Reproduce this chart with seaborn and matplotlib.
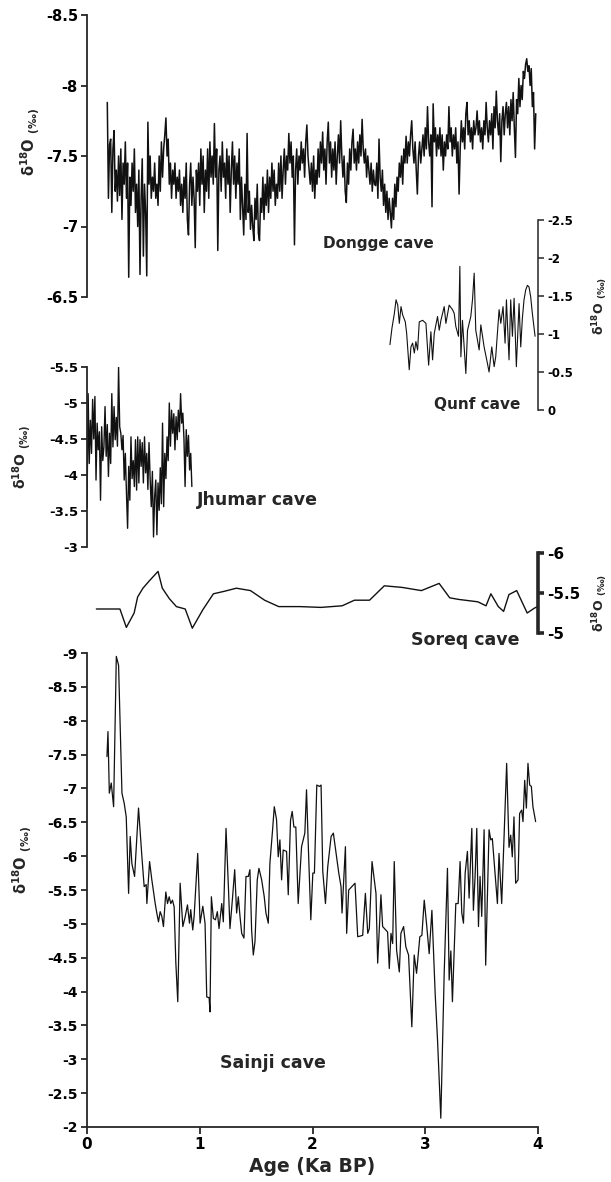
import matplotlib
matplotlib.use("Agg")
import numpy as np
import pandas as pd
import seaborn as sns
import matplotlib.pyplot as plt

# ---------------- data ----------------
dongge_age = [
    0.18, 0.19, 0.20, 0.21, 0.22, 0.23, 0.24, 0.25, 0.26, 0.27, 0.28, 0.29, 0.30, 0.31, 0.32, 0.33, 0.34, 0.35, 0.36, 0.37,
    0.38, 0.39, 0.40, 0.41, 0.42, 0.43, 0.44, 0.45, 0.46, 0.47, 0.48, 0.49, 0.50, 0.51, 0.52, 0.53, 0.54, 0.55, 0.56, 0.57,
    0.58, 0.59, 0.60, 0.61, 0.62, 0.63, 0.64, 0.65, 0.66, 0.67, 0.68, 0.69, 0.70, 0.71, 0.72, 0.73, 0.74, 0.75, 0.76, 0.77,
    0.78, 0.79, 0.80, 0.81, 0.82, 0.83, 0.84, 0.85, 0.86, 0.87, 0.88, 0.89, 0.90, 0.91, 0.92, 0.93, 0.94, 0.95, 0.96, 0.97,
    0.98, 0.99, 1.00, 1.01, 1.02, 1.03, 1.04, 1.05, 1.06, 1.07, 1.08, 1.09, 1.10, 1.11, 1.12, 1.13, 1.14, 1.15, 1.16, 1.17,
    1.18, 1.19, 1.20, 1.21, 1.22, 1.23, 1.24, 1.25, 1.26, 1.27, 1.28, 1.29, 1.30, 1.31, 1.32, 1.33, 1.34, 1.35, 1.36, 1.37,
    1.38, 1.39, 1.40, 1.41, 1.42, 1.43, 1.44, 1.45, 1.46, 1.47, 1.48, 1.49, 1.50, 1.51, 1.52, 1.53, 1.54, 1.55, 1.56, 1.57,
    1.58, 1.59, 1.60, 1.61, 1.62, 1.63, 1.64, 1.65, 1.66, 1.67, 1.68, 1.69, 1.70, 1.71, 1.72, 1.73, 1.74, 1.75, 1.76, 1.77,
    1.78, 1.79, 1.80, 1.81, 1.82, 1.83, 1.84, 1.85, 1.86, 1.87, 1.88, 1.89, 1.90, 1.91, 1.92, 1.93, 1.94, 1.95, 1.96, 1.97,
    1.98, 1.99, 2.00, 2.01, 2.02, 2.03, 2.04, 2.05, 2.06, 2.07, 2.08, 2.09, 2.10, 2.11, 2.12, 2.13, 2.14, 2.15, 2.16, 2.17,
    2.18, 2.19, 2.20, 2.21, 2.22, 2.23, 2.24, 2.25, 2.26, 2.27, 2.28, 2.29, 2.30, 2.31, 2.32, 2.33, 2.34, 2.35, 2.36, 2.37,
    2.38, 2.39, 2.40, 2.41, 2.42, 2.43, 2.44, 2.45, 2.46, 2.47, 2.48, 2.49, 2.50, 2.51, 2.52, 2.53, 2.54, 2.55, 2.56, 2.57,
    2.58, 2.59, 2.60, 2.61, 2.62, 2.63, 2.64, 2.65, 2.66, 2.67, 2.68, 2.69, 2.70, 2.71, 2.72, 2.73, 2.74, 2.75, 2.76, 2.77,
    2.78, 2.79, 2.80, 2.81, 2.82, 2.83, 2.84, 2.85, 2.86, 2.87, 2.88, 2.89, 2.90, 2.91, 2.92, 2.93, 2.94, 2.95, 2.96, 2.97,
    2.98, 2.99, 3.00, 3.01, 3.02, 3.03, 3.04, 3.05, 3.06, 3.07, 3.08, 3.09, 3.10, 3.11, 3.12, 3.13, 3.14, 3.15, 3.16, 3.17,
    3.18, 3.19, 3.20, 3.21, 3.22, 3.23, 3.24, 3.25, 3.26, 3.27, 3.28, 3.29, 3.30, 3.31, 3.32, 3.33, 3.34, 3.35, 3.36, 3.37,
    3.38, 3.39, 3.40, 3.41, 3.42, 3.43, 3.44, 3.45, 3.46, 3.47, 3.48, 3.49, 3.50, 3.51, 3.52, 3.53, 3.54, 3.55, 3.56, 3.57,
    3.58, 3.59, 3.60, 3.61, 3.62, 3.63, 3.64, 3.65, 3.66, 3.67, 3.68, 3.69, 3.70, 3.71, 3.72, 3.73, 3.74, 3.75, 3.76, 3.77,
    3.78, 3.79, 3.80, 3.81, 3.82, 3.83, 3.84, 3.85, 3.86, 3.87, 3.88, 3.89, 3.90, 3.91, 3.92, 3.93, 3.94, 3.95, 3.96, 3.97, 3.98,
]
dongge_d18o = [
    -7.88, -7.20, -7.58, -7.62, -7.10, -7.55, -7.68, -7.25, -7.40, -7.18, -7.50, -7.22, -7.55, -7.05, -7.45, -7.30, -7.60, -7.20, -7.45, -6.64,
    -7.35, -7.15, -7.45, -7.25, -7.55, -7.10, -7.30, -7.00, -7.40, -6.66, -7.20, -7.48, -6.79, -7.30, -7.10, -6.65, -7.74, -7.30, -7.50, -7.20,
    -7.35, -7.25, -7.45, -7.20, -7.30, -7.15, -7.50, -7.25, -7.60, -7.35, -7.55, -7.65, -7.77, -7.50, -7.62, -7.30, -7.45, -7.20, -7.40, -7.30,
    -7.45, -7.20, -7.35, -7.25, -7.40, -7.15, -7.30, -7.10, -7.35, -7.20, -7.45, -7.05, -6.94, -7.30, -7.45, -7.15, -7.35, -7.20, -6.85, -7.40,
    -7.25, -7.45, -7.15, -7.55, -7.30, -7.50, -7.10, -7.40, -7.25, -7.55, -7.20, -7.60, -7.35, -7.50, -7.30, -7.73, -7.35, -7.55, -6.83, -7.40,
    -7.50, -7.25, -7.60, -7.35, -7.45, -7.20, -7.55, -7.30, -7.50, -7.10, -7.40, -7.60, -7.30, -7.50, -7.20, -7.45, -7.30, -7.55, -7.05, -7.35,
    -7.15, -6.94, -7.30, -7.05, -7.66, -7.10, -7.25, -6.98, -7.15, -7.00, -6.90, -7.20, -7.05, -7.30, -6.95, -6.90, -7.20, -7.10, -7.35, -7.05,
    -7.30, -7.15, -7.40, -7.10, -7.35, -7.20, -7.45, -7.25, -7.40, -7.15, -7.30, -7.20, -7.45, -7.25, -7.50, -7.20, -7.40, -7.55, -7.30, -7.50,
    -7.40, -7.66, -7.45, -7.60, -7.35, -7.50, -6.87, -7.40, -7.55, -7.30, -7.50, -7.40, -7.60, -7.45, -7.55, -7.35, -7.60, -7.72, -7.50, -7.40,
    -7.30, -7.45, -7.25, -7.50, -7.20, -7.40, -7.30, -7.55, -7.35, -7.60, -7.45, -7.67, -7.40, -7.55, -7.30, -7.60, -7.74, -7.45, -7.60, -7.35,
    -7.55, -7.40, -7.60, -7.30, -7.50, -7.65, -7.45, -7.75, -7.50, -7.35, -7.50, -7.25, -7.17, -7.45, -7.30, -7.55, -7.40, -7.60, -7.69, -7.45,
    -7.55, -7.40, -7.60, -7.45, -7.65, -7.50, -7.76, -7.55, -7.45, -7.55, -7.35, -7.50, -7.40, -7.30, -7.45, -7.25, -7.40, -7.30, -7.29, -7.45,
    -7.20, -7.62, -7.35, -7.25, -7.40, -7.15, -7.30, -7.10, -7.25, -7.05, -7.20, -7.10, -6.99, -7.20, -7.05, -7.30, -7.14, -7.35, -7.25, -7.45,
    -7.35, -7.50, -7.30, -7.55, -7.45, -7.64, -7.45, -7.60, -7.50, -7.65, -7.75, -7.55, -7.45, -7.60, -7.40, -7.23, -7.50, -7.60, -7.45, -7.55,
    -7.65, -7.50, -7.70, -7.55, -7.85, -7.60, -7.50, -7.65, -7.14, -7.87, -7.60, -7.70, -7.50, -7.65, -7.55, -7.70, -7.50, -7.65, -7.40, -7.60,
    -7.50, -7.65, -7.55, -7.85, -7.60, -7.70, -7.50, -7.65, -7.55, -7.70, -7.45, -7.60, -7.23, -7.55, -7.75, -7.60, -7.70, -7.55, -7.80, -7.88,
    -7.65, -7.75, -7.60, -7.70, -7.55, -7.75, -7.65, -7.70, -7.82, -7.65, -7.75, -7.60, -7.70, -7.55, -7.75, -7.65, -7.88, -7.70, -7.60, -7.75,
    -7.65, -7.80, -7.55, -7.85, -7.70, -7.96, -7.75, -7.65, -7.80, -7.46, -7.75, -7.85, -7.65, -7.80, -7.88, -7.70, -7.85, -7.65, -7.90, -7.75,
    -7.95, -7.70, -7.49, -7.90, -7.80, -8.05, -7.85, -8.00, -7.90, -8.10, -8.05, -8.15, -8.19, -8.10, -8.14, -8.00, -8.12, -7.85, -7.95, -7.55, -7.80,
]

qunf_age = [
    2.687, 2.705, 2.726, 2.741, 2.756, 2.770, 2.785, 2.800, 2.823, 2.835,
    2.858, 2.873, 2.888, 2.903, 2.917, 2.932, 2.947, 2.977, 3.006, 3.030,
    3.050, 3.065, 3.080, 3.109, 3.124, 3.139, 3.168, 3.183, 3.212, 3.242,
    3.257, 3.271, 3.295, 3.307, 3.316, 3.330, 3.360, 3.375, 3.404, 3.419,
    3.434, 3.448, 3.478, 3.493, 3.522, 3.552, 3.566, 3.590, 3.611, 3.625,
    3.655, 3.670, 3.690, 3.708, 3.720, 3.743, 3.758, 3.773, 3.788, 3.808,
    3.832, 3.847, 3.861, 3.876, 3.891, 3.906, 3.920, 3.935, 3.950, 3.974,
]
qunf_d18o = [
    -0.86, -1.08, -1.27, -1.45, -1.38, -1.14, -1.36, -1.25, -1.16, -1.01,
    -0.53, -0.83, -0.88, -0.75, -0.90, -0.79, -1.16, -1.18, -1.14, -0.59,
    -1.03, -0.66, -1.01, -1.23, -1.05, -1.18, -1.36, -1.14, -1.38, -1.32,
    -1.27, -1.10, -0.97, -1.89, -0.70, -1.18, -0.48, -1.05, -1.23, -1.45,
    -1.80, -1.05, -0.79, -1.12, -0.83, -0.61, -0.50, -0.83, -0.57, -0.70,
    -1.32, -1.14, -1.36, -0.88, -1.45, -0.66, -1.45, -0.97, -1.47, -0.57,
    -1.40, -0.83, -1.20, -1.45, -1.58, -1.64, -1.62, -1.49, -1.27, -0.97,
]

jhumar_age = [
    0.00, 0.01, 0.02, 0.03, 0.04, 0.05, 0.06, 0.07, 0.08, 0.09,
    0.10, 0.11, 0.12, 0.13, 0.14, 0.15, 0.16, 0.17, 0.18, 0.19,
    0.20, 0.21, 0.22, 0.23, 0.24, 0.25, 0.26, 0.27, 0.28, 0.29,
    0.30, 0.31, 0.32, 0.33, 0.34, 0.35, 0.36, 0.37, 0.38, 0.39,
    0.40, 0.41, 0.42, 0.43, 0.44, 0.45, 0.46, 0.47, 0.48, 0.49,
    0.50, 0.51, 0.52, 0.53, 0.54, 0.55, 0.56, 0.57, 0.58, 0.59,
    0.60, 0.61, 0.62, 0.63, 0.64, 0.65, 0.66, 0.67, 0.68, 0.69,
    0.70, 0.71, 0.72, 0.73, 0.74, 0.75, 0.76, 0.77, 0.78, 0.79,
    0.80, 0.81, 0.82, 0.83, 0.84, 0.85, 0.86, 0.87, 0.88, 0.89,
    0.90, 0.91, 0.92, 0.93,
]
jhumar_d18o = [
    -3.55, -5.13, -4.16, -4.76, -4.30, -5.05, -4.50, -5.09, -3.93, -4.72,
    -4.35, -4.60, -3.65, -4.67, -4.20, -4.39, -4.95, -4.26, -4.70, -3.98,
    -4.58, -4.16, -5.13, -4.39, -4.95, -4.49, -4.80, -4.40, -5.50, -4.67,
    -4.58, -4.35, -4.55, -3.93, -4.30, -3.75, -3.26, -4.12, -3.65, -4.53,
    -3.95, -4.20, -3.84, -4.49, -3.79, -4.53, -3.89, -4.49, -4.12, -4.45,
    -3.89, -4.53, -4.03, -4.30, -3.80, -4.45, -3.95, -3.56, -4.05, -3.14,
    -3.70, -3.93, -3.17, -3.89, -3.51, -4.10, -3.60, -4.72, -3.56, -4.30,
    -3.95, -4.53, -4.20, -5.00, -4.40, -4.90, -4.58, -4.85, -4.35, -4.81,
    -4.49, -4.90, -4.60, -5.13, -4.72, -4.86, -4.50, -3.84, -4.63, -4.26,
    -4.55, -4.07, -4.30, -3.84,
]

soreq_age = [
    0.083, 0.292, 0.349, 0.418, 0.449, 0.496, 0.558, 0.630, 0.668, 0.730,
    0.793, 0.871, 0.934, 1.027, 1.121, 1.214, 1.325, 1.450, 1.575, 1.700,
    1.888, 2.075, 2.263, 2.372, 2.506, 2.637, 2.794, 2.966, 3.123, 3.217,
    3.295, 3.466, 3.539, 3.582, 3.648, 3.695, 3.742, 3.811, 3.904, 3.967, 3.995,
]
soreq_d18o = [
    -5.30, -5.30, -5.07, -5.25, -5.45, -5.56, -5.66, -5.77, -5.56, -5.43,
    -5.33, -5.30, -5.06, -5.29, -5.49, -5.52, -5.56, -5.53, -5.41, -5.33,
    -5.33, -5.32, -5.34, -5.41, -5.41, -5.59, -5.57, -5.53, -5.62, -5.44,
    -5.42, -5.39, -5.34, -5.49, -5.33, -5.27, -5.48, -5.53, -5.25, -5.31, -5.33,
]

sainji_age = [
    0.177, 0.186, 0.198, 0.215, 0.236, 0.260, 0.280, 0.310, 0.330, 0.348,
    0.369, 0.383, 0.398, 0.422, 0.457, 0.487, 0.507, 0.525, 0.531, 0.555,
    0.575, 0.605, 0.619, 0.634, 0.649, 0.664, 0.678, 0.699, 0.714, 0.729,
    0.743, 0.758, 0.773, 0.788, 0.805, 0.826, 0.850, 0.870, 0.891, 0.909,
    0.920, 0.938, 0.950, 0.982, 1.003, 1.027, 1.047, 1.062, 1.083, 1.091,
    1.103, 1.121, 1.139, 1.156, 1.171, 1.195, 1.209, 1.233, 1.254, 1.268,
    1.289, 1.310, 1.327, 1.342, 1.357, 1.372, 1.392, 1.410, 1.431, 1.445,
    1.460, 1.475, 1.490, 1.510, 1.525, 1.549, 1.572, 1.587, 1.608, 1.622,
    1.646, 1.661, 1.681, 1.696, 1.711, 1.726, 1.740, 1.770, 1.785, 1.805,
    1.820, 1.835, 1.852, 1.873, 1.903, 1.932, 1.947, 1.962, 1.985, 2.003,
    2.017, 2.038, 2.062, 2.076, 2.091, 2.115, 2.135, 2.165, 2.185, 2.209,
    2.233, 2.253, 2.262, 2.292, 2.303, 2.321, 2.377, 2.401, 2.445, 2.469,
    2.490, 2.504, 2.528, 2.563, 2.578, 2.607, 2.622, 2.666, 2.681, 2.696,
    2.711, 2.725, 2.746, 2.770, 2.784, 2.808, 2.828, 2.852, 2.881, 2.902,
    2.923, 2.952, 2.970, 2.991, 3.011, 3.035, 3.059, 3.088, 3.109, 3.138,
    3.168, 3.197, 3.212, 3.227, 3.241, 3.271, 3.292, 3.309, 3.324, 3.339,
    3.354, 3.374, 3.389, 3.413, 3.427, 3.442, 3.457, 3.472, 3.486, 3.501,
    3.522, 3.536, 3.566, 3.581, 3.595, 3.610, 3.640, 3.654, 3.678, 3.699,
    3.722, 3.743, 3.758, 3.772, 3.787, 3.802, 3.823, 3.837, 3.855, 3.867,
    3.882, 3.897, 3.911, 3.926, 3.941, 3.955, 3.979,
]
sainji_d18o = [
    -7.47, -7.84, -6.93, -7.08, -6.73, -8.95, -8.82, -6.93, -6.78, -6.58,
    -5.45, -6.29, -5.89, -5.70, -6.71, -5.99, -5.55, -5.58, -5.30, -5.92,
    -5.65, -5.30, -5.16, -5.03, -5.18, -5.11, -4.96, -5.47, -5.30, -5.40,
    -5.30, -5.35, -5.25, -4.42, -3.85, -5.60, -4.96, -5.10, -5.28, -5.01,
    -5.21, -4.91, -5.11, -6.04, -5.01, -5.26, -5.01, -3.92, -3.91, -3.70,
    -5.40, -5.08, -5.06, -5.18, -4.93, -5.30, -5.03, -6.41, -5.55, -4.93,
    -5.35, -5.80, -5.16, -5.40, -5.11, -4.86, -4.79, -5.70, -5.70, -5.80,
    -4.91, -4.54, -4.74, -5.65, -5.82, -5.65, -5.40, -5.16, -5.01, -5.89,
    -6.39, -6.73, -6.54, -5.99, -6.24, -5.65, -6.09, -6.07, -5.43, -6.53,
    -6.66, -6.43, -6.43, -5.30, -6.14, -6.34, -6.98, -6.19, -5.06, -5.75,
    -5.75, -7.05, -7.03, -7.05, -5.78, -5.30, -5.84, -6.29, -6.34, -6.04,
    -5.75, -5.55, -5.16, -6.14, -4.86, -5.50, -5.60, -4.81, -4.83, -5.45,
    -4.86, -4.93, -5.92, -5.45, -4.42, -5.43, -4.96, -4.88, -4.34, -4.86,
    -4.71, -5.92, -4.61, -4.29, -4.86, -4.96, -4.66, -4.54, -3.48, -4.54,
    -4.27, -4.81, -4.83, -5.35, -5.01, -4.56, -5.20, -3.97, -3.28, -2.13,
    -4.27, -5.82, -4.17, -4.60, -3.85, -5.30, -5.30, -5.92, -5.16, -5.01,
    -5.75, -6.07, -5.38, -6.41, -5.20, -5.70, -6.41, -4.96, -5.70, -5.11,
    -6.39, -4.39, -6.39, -6.24, -6.26, -5.94, -5.30, -6.04, -5.30, -6.31,
    -7.37, -6.13, -6.31, -5.99, -6.58, -5.60, -5.65, -6.63, -6.68, -6.51,
    -7.12, -6.71, -7.37, -7.05, -7.03, -6.73, -6.51,
]

x_ticks = [0, 1, 2, 3, 4]
dongge_ticks = [-8.5, -8, -7.5, -7, -6.5]
qunf_ticks = [-2.5, -2, -1.5, -1, -0.5, 0]
jhumar_ticks = [-5.5, -5, -4.5, -4, -3.5, -3]
soreq_ticks = [-6, -5.5, -5]
sainji_ticks = [-9, -8.5, -8, -7.5, -7, -6.5, -6, -5.5, -5, -4.5, -4, -3.5, -3, -2.5, -2]

# ---------------- style ----------------
sns.set_style("ticks")
plt.rcParams["font.family"] = ["DejaVu Sans"]
plt.rcParams["axes.unicode_minus"] = False
plt.rcParams["mathtext.default"] = "bf"

LINE = "#111111"
SPINE = "#262626"
YLAB = "δ$^{18}$O $_{(‰)}$"

W, H = 611, 1182
fig = plt.figure(figsize=(W / 100, H / 100), dpi=100)


def make_axes(top, bottom):
    ax = fig.add_axes([87 / W, 1 - bottom / H, 451 / W, (bottom - top) / H])
    ax.patch.set_alpha(0)
    ax.set_xlim(0, 4)
    for s in ax.spines.values():
        s.set_visible(False)
    return ax


def fmt(v):
    return "%g" % v


def style_y(ax, ticks, side, fs, lw=1.3):
    ax.set_ylim(ticks[-1], ticks[0])
    ax.spines[side].set_visible(True)
    ax.spines[side].set_linewidth(lw)
    ax.spines[side].set_color(SPINE)
    if side == "right":
        ax.yaxis.tick_right()
    ax.set_yticks(ticks)
    ax.set_yticklabels([fmt(t) for t in ticks], fontsize=fs, fontweight="bold")
    ax.tick_params(axis="y", direction="out", length=4.5, width=lw, pad=2,
                   colors=SPINE, labelcolor="black")
    ax.set_ylabel("")


def draw(ax, x, y, lw):
    df = pd.DataFrame({"age": x, "d18o": y})
    sns.lineplot(data=df, x="age", y="d18o", ax=ax, color=LINE, lw=lw,
                 sort=False, estimator=None)
    ax.set_xlabel("")
    ax.set_ylabel("")


# Dongge
ax1 = make_axes(15, 297)
draw(ax1, dongge_age, dongge_d18o, 1.1)
style_y(ax1, dongge_ticks, "left", 10.5)
ax1.set_xticks([])
ax1.text(-0.126, 0.55, YLAB, transform=ax1.transAxes, rotation=90, ha="center",
         va="center", fontsize=10.5, fontweight="bold")
ax1.text(2.09, -6.876, "Dongge cave", fontsize=11, fontweight="bold",
         ha="left", va="center")

# Qunf
ax2 = make_axes(220, 410)
draw(ax2, qunf_age, qunf_d18o, 0.8)
style_y(ax2, qunf_ticks, "right", 8.5, lw=1.1)
ax2.set_xticks([])
ax2.text(1.137, 0.55, YLAB, transform=ax2.transAxes, rotation=90, ha="center",
         va="center", fontsize=9, fontweight="bold")
ax2.text(3.08, -0.07, "Qunf cave", fontsize=11, fontweight="bold",
         ha="left", va="center")

# Jhumar
ax3 = make_axes(367, 547)
draw(ax3, jhumar_age, jhumar_d18o, 1.0)
style_y(ax3, jhumar_ticks, "left", 9.5)
ax3.set_xticks([])
ax3.text(-0.144, 0.5, YLAB, transform=ax3.transAxes, rotation=90, ha="center",
         va="center", fontsize=10, fontweight="bold")
ax3.text(0.973, -3.65, "Jhumar cave", fontsize=12.5, fontweight="bold",
         ha="left", va="center")

# Soreq
ax4 = make_axes(553, 633)
draw(ax4, soreq_age, soreq_d18o, 1.0)
style_y(ax4, soreq_ticks, "right", 11, lw=2.6)
ax4.set_xticks([])
ax4.text(1.137, 0.38, YLAB, transform=ax4.transAxes, rotation=90, ha="center",
         va="center", fontsize=9, fontweight="bold")
ax4.text(2.876, -4.91, "Soreq cave", fontsize=12.5, fontweight="bold",
         ha="left", va="center")

# Sainji
ax5 = make_axes(653, 1127)
draw(ax5, sainji_age, sainji_d18o, 0.9)
style_y(ax5, sainji_ticks, "left", 10)
ax5.spines["bottom"].set_visible(True)
ax5.spines["bottom"].set_linewidth(1.3)
ax5.spines["bottom"].set_color(SPINE)
ax5.set_xticks(x_ticks)
ax5.set_xticklabels([fmt(t) for t in x_ticks], fontsize=11, fontweight="bold")
ax5.tick_params(axis="x", direction="out", length=5, width=1.3, pad=2,
                colors=SPINE, labelcolor="black")
ax5.set_xlabel("Age (Ka BP)", fontsize=13.5, fontweight="bold", labelpad=4)
ax5.text(-0.144, 0.563, YLAB, transform=ax5.transAxes, rotation=90, ha="center",
         va="center", fontsize=10.5, fontweight="bold")
ax5.text(1.177, -2.94, "Sainji cave", fontsize=12.5, fontweight="bold",
         ha="left", va="center")

fig.savefig("out.png", dpi=100)
